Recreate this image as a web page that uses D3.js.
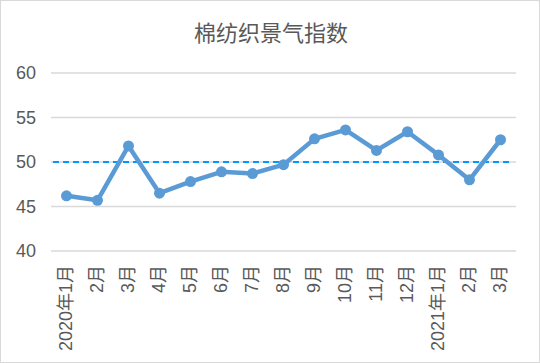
<!DOCTYPE html>
<html>
<head>
<meta charset="utf-8">
<script src="https://cdn.jsdelivr.net/npm/d3@7"></script>
<style>
  body { margin: 0; background: #fff; }
  text { font-family: "Liberation Sans", "Noto Sans CJK SC", sans-serif; }
</style>
</head>
<body>
<svg id="chart" width="540" height="363"></svg>
<script>
// chart data
var months = ['2020年1月','2月','3月','4月','5月','6月','7月','8月','9月','10月','11月','12月','2021年1月','2月','3月'];
var values = [46.2, 45.7, 51.8, 46.5, 47.8, 48.9, 48.7, 49.7, 52.6, 53.6, 51.3, 53.4, 50.8, 48.0, 52.5];
var yTicks = [40, 45, 50, 55, 60];
var refLine = 50;

var svg = d3.select('#chart');
var plotLeft = 51, plotRight = 516, plotTop = 73, plotBottom = 251;

svg.append('rect')
  .attr('x', 0.5).attr('y', 0.5)
  .attr('width', 539).attr('height', 362)
  .attr('fill', '#fff')
  .attr('stroke', '#d9d9d9');

svg.append('text')
  .attr('x', 271).attr('y', 41)
  .attr('text-anchor', 'middle')
  .attr('font-size', 22)
  .attr('fill', '#595959')
  .style('font-family', '"Noto Sans CJK SC", sans-serif')
  .text('棉纺织景气指数');

var x = d3.scaleBand().domain(months.map(function(d, i){ return i; })).range([plotLeft, plotRight]);
var y = d3.scaleLinear().domain([40, 60]).range([plotBottom, plotTop]);

// gridlines
svg.selectAll('.grid')
  .data(yTicks).enter()
  .append('line')
  .attr('class', 'grid')
  .attr('x1', plotLeft).attr('x2', plotRight)
  .attr('y1', function(d){ return y(d); })
  .attr('y2', function(d){ return y(d); })
  .attr('stroke', '#d9d9d9')
  .attr('stroke-width', 1.3);

// y axis labels
var yAxis = d3.axisLeft(y).tickValues(yTicks).tickSize(0).tickPadding(0);
var gy = svg.append('g').attr('transform', 'translate(36,0)').call(yAxis);
gy.select('.domain').remove();
gy.selectAll('text')
  .attr('font-size', 18)
  .attr('fill', '#595959')
  .style('font-family', '"Liberation Sans", sans-serif');

// x axis labels
var xAxis = d3.axisBottom(x).tickSize(0).tickPadding(0)
  .tickFormat(function(i){ return months[i]; });
var gx = svg.append('g').attr('transform', 'translate(0,' + plotBottom + ')').call(xAxis);
gx.select('.domain').remove();
gx.selectAll('text')
  .attr('font-size', 18)
  .attr('fill', '#595959')
  .attr('text-anchor', 'end')
  .attr('y', 0)
  .attr('dy', '0.35em')
  .attr('transform', 'translate(-1,14) rotate(-90)')
  .style('font-family', '"Liberation Sans", "Noto Sans CJK SC", sans-serif');

// reference line at 50
svg.append('line')
  .attr('x1', plotLeft + 2).attr('x2', plotRight - 6)
  .attr('y1', y(refLine)).attr('y2', y(refLine))
  .attr('stroke', '#0099ff')
  .attr('stroke-width', 2)
  .attr('stroke-dasharray', '6,4');

var line = d3.line()
  .x(function(d, i){ return x(i) + x.bandwidth() / 2; })
  .y(function(d){ return y(d); });

svg.append('path')
  .datum(values)
  .attr('d', line)
  .attr('fill', 'none')
  .attr('stroke', '#5b9bd5')
  .attr('stroke-width', 4.5)
  .attr('stroke-linejoin', 'round');

svg.selectAll('.dot')
  .data(values).enter()
  .append('circle')
  .attr('class', 'dot')
  .attr('cx', function(d, i){ return x(i) + x.bandwidth() / 2; })
  .attr('cy', function(d){ return y(d); })
  .attr('r', 5.5)
  .attr('fill', '#5b9bd5');
</script>
</body>
</html>
